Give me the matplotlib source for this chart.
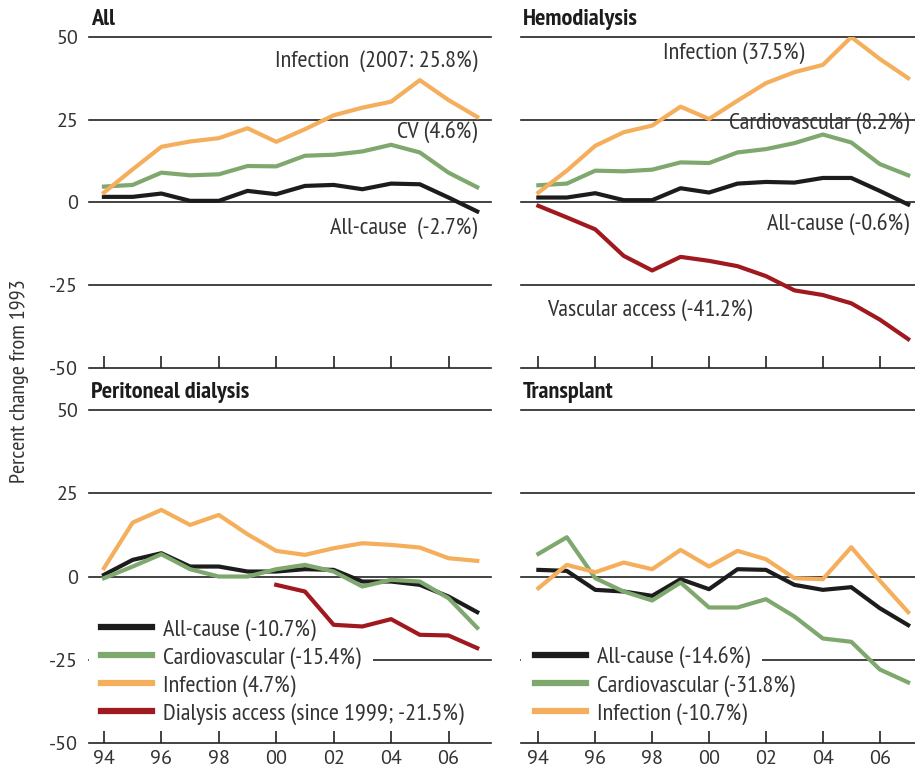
import matplotlib
matplotlib.use("Agg")
import matplotlib.pyplot as plt
from matplotlib.patches import Rectangle

plt.rcParams['font.family'] = ['PT Sans Narrow', 'DejaVu Sans']
TICKFONT = ['PT Sans', 'DejaVu Sans']

years = list(range(94, 108))
tick_years = [94, 96, 98, 100, 102, 104, 106]
tick_labels = ['94', '96', '98', '00', '02', '04', '06']

# All
all_inf = [3.0, 10.0, 16.8, 18.4, 19.4, 22.4, 18.3, 22.1, 26.3, 28.6, 30.4, 36.9, 30.9, 25.8]
all_cv = [4.8, 5.3, 9.0, 8.2, 8.5, 11.0, 10.9, 14.1, 14.4, 15.4, 17.4, 15.1, 9.0, 4.6]
all_ac = [1.7, 1.7, 2.7, 0.5, 0.5, 3.5, 2.5, 5.0, 5.3, 4.0, 5.7, 5.5, 1.5, -2.7]

# Hemodialysis
hd_inf = [3.0, 9.6, 17.1, 21.2, 23.2, 28.9, 25.2, 30.7, 36.0, 39.3, 41.5, 49.9, 43.3, 37.5]
hd_cv = [5.2, 5.7, 9.6, 9.4, 9.9, 12.1, 11.9, 15.1, 16.1, 17.9, 20.5, 18.1, 11.6, 8.2]
hd_ac = [1.5, 1.5, 2.8, 0.7, 0.7, 4.3, 3.0, 5.7, 6.2, 6.0, 7.4, 7.4, 3.5, -0.6]
hd_va = [-1.0, -4.5, -8.1, -16.1, -20.5, -16.4, -17.6, -19.2, -22.2, -26.5, -27.9, -30.4, -35.3, -41.2]

# Peritoneal dialysis
pd_ac = [0.5, 5.0, 7.0, 3.0, 3.0, 1.5, 1.5, 2.2, 2.0, -1.5, -1.5, -2.5, -6.0, -10.7]
pd_cv = [-0.5, 3.0, 6.7, 2.2, 0.0, 0.0, 2.2, 3.5, 1.5, -3.0, -1.0, -1.5, -6.5, -15.4]
pd_inf = [2.5, 16.2, 20.0, 15.5, 18.5, 12.7, 7.7, 6.5, 8.5, 10.0, 9.5, 8.7, 5.5, 4.7]
pd_da_years = list(range(100, 108))
pd_da = [-2.5, -4.5, -14.5, -15.0, -12.8, -17.5, -17.7, -21.5]

# Transplant
tx_ac = [2.0, 1.7, -4.0, -4.5, -5.8, -0.8, -3.8, 2.2, 2.0, -2.5, -4.0, -3.2, -9.5, -14.6]
tx_cv = [6.8, 11.8, -0.5, -4.5, -7.2, -1.8, -9.3, -9.3, -6.8, -12.0, -18.6, -19.6, -27.9, -31.8]
tx_inf = [-3.5, 3.5, 1.3, 4.2, 2.2, 8.0, 3.0, 7.7, 5.2, -0.5, -0.8, 8.8, -1.2, -10.7]

BLACK = '#1c1c1c'
GREEN = '#7ea86e'
ORANGE = '#f4ae5c'
RED = '#a0191e'
GREY = '#333333'
LW = 3.0
TXT = 17.5

fig = plt.figure(figsize=(9.15, 7.76), dpi=100)
ax_all = fig.add_axes([0.0976, 0.5254, 0.4387, 0.4273])
ax_hd = fig.add_axes([0.5691, 0.5254, 0.4309, 0.4273])
ax_pd = fig.add_axes([0.0976, 0.0425, 0.4387, 0.4291])
ax_tx = fig.add_axes([0.5691, 0.0425, 0.4309, 0.4291])


def style(ax, title, left, bottom, xlim):
    ax.set_xlim(*xlim)
    ax.set_ylim(-50, 50)
    for s in ['top', 'right', 'left']:
        ax.spines[s].set_visible(False)
    ax.spines['bottom'].set_linewidth(1.2)
    ax.spines['bottom'].set_color('#222222')
    for v in [50, 25, 0, -25]:
        ax.axhline(v, color='#222222', lw=1.2, zorder=1, clip_on=False)
    ax.set_xticks(tick_years)
    ax.tick_params(axis='x', direction='in', length=9, width=1.2, color='#222222', pad=5)
    if bottom:
        ax.set_xticklabels(tick_labels, family=TICKFONT, fontsize=14.5, color=GREY)
    else:
        ax.set_xticklabels([])
    ax.set_yticks([-50, -25, 0, 25, 50])
    ax.tick_params(axis='y', length=0, pad=8)
    if left:
        ax.set_yticklabels(['-50', '-25', '0', '25', '50'], family=TICKFONT, fontsize=14.5, color=GREY)
    else:
        ax.set_yticklabels([])
    ax.text(0.005, 1.02, title, transform=ax.transAxes, fontsize=17.5, fontweight='bold',
            color='#1c1c1c', ha='left', va='bottom')


style(ax_all, 'All', True, False, (93.49, 107.47))
style(ax_hd, 'Hemodialysis', False, False, (93.38, 107.24))
style(ax_pd, 'Peritoneal dialysis', True, True, (93.49, 107.47))
style(ax_tx, 'Transplant', False, True, (93.38, 107.24))

# All
ax_all.plot(years, all_ac, color=BLACK, lw=LW, zorder=3)
ax_all.plot(years, all_cv, color=GREEN, lw=LW, zorder=3)
ax_all.plot(years, all_inf, color=ORANGE, lw=LW, zorder=3)
ax_all.text(107.0, 42.7, 'Infection  (2007: 25.8%)', fontsize=TXT, color=GREY, ha='right', va='center')
ax_all.text(107.0, 20.9, 'CV (4.6%)', fontsize=TXT, color=GREY, ha='right', va='center')
ax_all.text(107.0, -7.7, 'All-cause  (-2.7%)', fontsize=TXT, color=GREY, ha='right', va='center')

# Hemodialysis
ax_hd.plot(years, hd_va, color=RED, lw=LW, zorder=3)
ax_hd.plot(years, hd_ac, color=BLACK, lw=LW, zorder=3)
ax_hd.plot(years, hd_cv, color=GREEN, lw=LW, zorder=3)
ax_hd.plot(years, hd_inf, color=ORANGE, lw=LW, zorder=3)
ax_hd.text(98.39, 45.0, 'Infection (37.5%)', fontsize=TXT, color=GREY, ha='left', va='center')
ax_hd.text(107.04, 24.1, 'Cardiovascular (8.2%)', fontsize=TXT, color=GREY, ha='right', va='center')
ax_hd.text(107.04, -6.8, 'All-cause (-0.6%)', fontsize=TXT, color=GREY, ha='right', va='center')
ax_hd.text(94.3, -32.4, 'Vascular access (-41.2%)', fontsize=TXT, color=GREY, ha='left', va='center')

# Peritoneal dialysis
l1, = ax_pd.plot(years, pd_ac, color=BLACK, lw=LW, zorder=3)
l2, = ax_pd.plot(years, pd_cv, color=GREEN, lw=LW, zorder=3)
l3, = ax_pd.plot(years, pd_inf, color=ORANGE, lw=LW, zorder=3)
l4, = ax_pd.plot(pd_da_years, pd_da, color=RED, lw=LW, zorder=3)

# Transplant
t1, = ax_tx.plot(years, tx_ac, color=BLACK, lw=LW, zorder=3)
t2, = ax_tx.plot(years, tx_cv, color=GREEN, lw=LW, zorder=3)
t3, = ax_tx.plot(years, tx_inf, color=ORANGE, lw=LW, zorder=3)

leg_kw = dict(frameon=False, fontsize=TXT, handlelength=2.1, handletextpad=0.45,
              labelspacing=0.24, borderaxespad=0, borderpad=0)
leg_pd = ax_pd.legend([l1, l2, l3, l4],
                      ['All-cause (-10.7%)', 'Cardiovascular (-15.4%)', 'Infection (4.7%)',
                       'Dialysis access (since 1999; -21.5%)'],
                      loc='lower left', bbox_to_anchor=(0.03, 0.055), **leg_kw)
leg_tx = ax_tx.legend([t1, t2, t3],
                      ['All-cause (-14.6%)', 'Cardiovascular (-31.8%)', 'Infection (-10.7%)'],
                      loc='lower left', bbox_to_anchor=(0.037, 0.055), **leg_kw)
for leg in [leg_pd, leg_tx]:
    for h in leg.get_lines():
        h.set_linewidth(4.5)
    for t in leg.get_texts():
        t.set_color(GREY)

# white band behind each legend row, hiding the gridline there
fig.canvas.draw()
rend = fig.canvas.get_renderer()
for ax, leg in [(ax_pd, leg_pd), (ax_tx, leg_tx)]:
    inv = ax.transAxes.inverted()
    for t in leg.get_texts():
        bb = t.get_window_extent(rend)
        (x0, y0), (x1, y1) = inv.transform([(bb.x0, bb.y0), (bb.x1, bb.y1)])
        ax.add_patch(Rectangle((0, y0), x1 + 0.03, y1 - y0, transform=ax.transAxes,
                               facecolor='white', edgecolor='none', zorder=1.5))

fig.text(20 / 915, 1 - 381 / 776, 'Percent change from 1993', rotation=90, fontsize=16,
         color=GREY, ha='center', va='center')

plt.savefig('out.png', dpi=100)
